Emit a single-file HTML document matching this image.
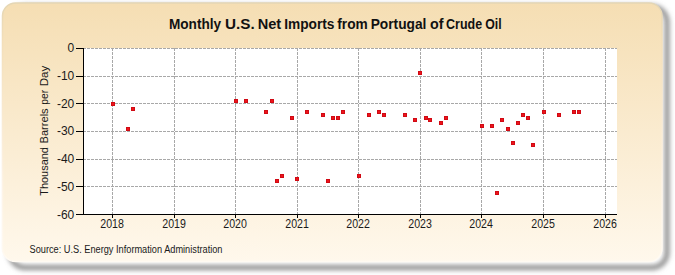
<!DOCTYPE html>
<html><head><meta charset="utf-8"><style>
html,body{margin:0;padding:0;background:#fff;width:675px;height:275px;overflow:hidden}
svg{display:block;font-family:"Liberation Sans",sans-serif}
</style></head><body>
<svg width="675" height="275" viewBox="0 0 675 275">
<defs>
<linearGradient id="bg" x1="0" y1="0" x2="0" y2="1">
<stop offset="0" stop-color="#F5DEB3"/>
<stop offset="1" stop-color="#FFF8EC"/>
</linearGradient>
<linearGradient id="bd" x1="0" y1="0" x2="0" y2="1">
<stop offset="0" stop-color="#E4D6B4"/>
<stop offset="0.15" stop-color="#F3DFBA"/>
<stop offset="0.7" stop-color="#FDF3E6"/>
<stop offset="1" stop-color="#FFFAF2"/>
</linearGradient>
<filter id="sh" x="-10%" y="-10%" width="120%" height="120%"><feGaussianBlur stdDeviation="2.5"/></filter>
<filter id="pb" x="-5%" y="-5%" width="110%" height="110%"><feGaussianBlur stdDeviation="0.7"/></filter>
</defs>
<rect x="10" y="7" width="657" height="260.5" rx="15" fill="none" stroke="#808080" stroke-width="4.5" filter="url(#sh)"/>
<g filter="url(#pb)"><rect x="2.5" y="3" width="659.5" height="258.5" rx="13" fill="url(#bg)" stroke="url(#bd)" stroke-width="1.5"/>
</g>
<rect x="84" y="48" width="533" height="166" fill="#fff"/>
<path d="M84 48.5H86M87 48.5H90M91 48.5H94M95 48.5H98M99 48.5H102M103 48.5H106M107 48.5H110M111 48.5H114M115 48.5H118M119 48.5H122M123 48.5H126M127 48.5H130M131 48.5H134M135 48.5H138M139 48.5H142M143 48.5H146M147 48.5H150M151 48.5H154M155 48.5H158M159 48.5H162M163 48.5H166M167 48.5H170M171 48.5H174M175 48.5H178M179 48.5H182M183 48.5H186M187 48.5H190M191 48.5H194M195 48.5H198M199 48.5H202M203 48.5H206M207 48.5H210M211 48.5H214M215 48.5H218M219 48.5H222M223 48.5H226M227 48.5H230M231 48.5H234M235 48.5H238M239 48.5H242M243 48.5H246M247 48.5H250M251 48.5H254M255 48.5H258M259 48.5H262M263 48.5H266M267 48.5H270M271 48.5H274M275 48.5H278M279 48.5H282M283 48.5H286M287 48.5H290M291 48.5H294M295 48.5H298M299 48.5H302M303 48.5H306M307 48.5H310M311 48.5H314M315 48.5H318M319 48.5H322M323 48.5H326M327 48.5H330M331 48.5H334M335 48.5H338M339 48.5H342M343 48.5H346M347 48.5H350M351 48.5H354M355 48.5H358M359 48.5H362M363 48.5H366M367 48.5H370M371 48.5H374M375 48.5H378M379 48.5H382M383 48.5H386M387 48.5H390M391 48.5H394M395 48.5H398M399 48.5H402M403 48.5H406M407 48.5H410M411 48.5H414M415 48.5H418M419 48.5H422M423 48.5H426M427 48.5H430M431 48.5H434M435 48.5H438M439 48.5H442M443 48.5H446M447 48.5H450M451 48.5H454M455 48.5H458M459 48.5H462M463 48.5H466M467 48.5H470M471 48.5H474M475 48.5H478M479 48.5H482M483 48.5H486M487 48.5H490M491 48.5H494M495 48.5H498M499 48.5H502M503 48.5H506M507 48.5H510M511 48.5H514M515 48.5H518M519 48.5H522M523 48.5H526M527 48.5H530M531 48.5H534M535 48.5H538M539 48.5H542M543 48.5H546M547 48.5H550M551 48.5H554M555 48.5H558M559 48.5H562M563 48.5H566M567 48.5H570M571 48.5H574M575 48.5H578M579 48.5H582M583 48.5H586M587 48.5H590M591 48.5H594M595 48.5H598M599 48.5H602M603 48.5H606M607 48.5H610M611 48.5H614M615 48.5H617M84 76.5H86M87 76.5H90M91 76.5H94M95 76.5H98M99 76.5H102M103 76.5H106M107 76.5H110M111 76.5H114M115 76.5H118M119 76.5H122M123 76.5H126M127 76.5H130M131 76.5H134M135 76.5H138M139 76.5H142M143 76.5H146M147 76.5H150M151 76.5H154M155 76.5H158M159 76.5H162M163 76.5H166M167 76.5H170M171 76.5H174M175 76.5H178M179 76.5H182M183 76.5H186M187 76.5H190M191 76.5H194M195 76.5H198M199 76.5H202M203 76.5H206M207 76.5H210M211 76.5H214M215 76.5H218M219 76.5H222M223 76.5H226M227 76.5H230M231 76.5H234M235 76.5H238M239 76.5H242M243 76.5H246M247 76.5H250M251 76.5H254M255 76.5H258M259 76.5H262M263 76.5H266M267 76.5H270M271 76.5H274M275 76.5H278M279 76.5H282M283 76.5H286M287 76.5H290M291 76.5H294M295 76.5H298M299 76.5H302M303 76.5H306M307 76.5H310M311 76.5H314M315 76.5H318M319 76.5H322M323 76.5H326M327 76.5H330M331 76.5H334M335 76.5H338M339 76.5H342M343 76.5H346M347 76.5H350M351 76.5H354M355 76.5H358M359 76.5H362M363 76.5H366M367 76.5H370M371 76.5H374M375 76.5H378M379 76.5H382M383 76.5H386M387 76.5H390M391 76.5H394M395 76.5H398M399 76.5H402M403 76.5H406M407 76.5H410M411 76.5H414M415 76.5H418M419 76.5H422M423 76.5H426M427 76.5H430M431 76.5H434M435 76.5H438M439 76.5H442M443 76.5H446M447 76.5H450M451 76.5H454M455 76.5H458M459 76.5H462M463 76.5H466M467 76.5H470M471 76.5H474M475 76.5H478M479 76.5H482M483 76.5H486M487 76.5H490M491 76.5H494M495 76.5H498M499 76.5H502M503 76.5H506M507 76.5H510M511 76.5H514M515 76.5H518M519 76.5H522M523 76.5H526M527 76.5H530M531 76.5H534M535 76.5H538M539 76.5H542M543 76.5H546M547 76.5H550M551 76.5H554M555 76.5H558M559 76.5H562M563 76.5H566M567 76.5H570M571 76.5H574M575 76.5H578M579 76.5H582M583 76.5H586M587 76.5H590M591 76.5H594M595 76.5H598M599 76.5H602M603 76.5H606M607 76.5H610M611 76.5H614M615 76.5H617M84 103.5H86M87 103.5H90M91 103.5H94M95 103.5H98M99 103.5H102M103 103.5H106M107 103.5H110M111 103.5H114M115 103.5H118M119 103.5H122M123 103.5H126M127 103.5H130M131 103.5H134M135 103.5H138M139 103.5H142M143 103.5H146M147 103.5H150M151 103.5H154M155 103.5H158M159 103.5H162M163 103.5H166M167 103.5H170M171 103.5H174M175 103.5H178M179 103.5H182M183 103.5H186M187 103.5H190M191 103.5H194M195 103.5H198M199 103.5H202M203 103.5H206M207 103.5H210M211 103.5H214M215 103.5H218M219 103.5H222M223 103.5H226M227 103.5H230M231 103.5H234M235 103.5H238M239 103.5H242M243 103.5H246M247 103.5H250M251 103.5H254M255 103.5H258M259 103.5H262M263 103.5H266M267 103.5H270M271 103.5H274M275 103.5H278M279 103.5H282M283 103.5H286M287 103.5H290M291 103.5H294M295 103.5H298M299 103.5H302M303 103.5H306M307 103.5H310M311 103.5H314M315 103.5H318M319 103.5H322M323 103.5H326M327 103.5H330M331 103.5H334M335 103.5H338M339 103.5H342M343 103.5H346M347 103.5H350M351 103.5H354M355 103.5H358M359 103.5H362M363 103.5H366M367 103.5H370M371 103.5H374M375 103.5H378M379 103.5H382M383 103.5H386M387 103.5H390M391 103.5H394M395 103.5H398M399 103.5H402M403 103.5H406M407 103.5H410M411 103.5H414M415 103.5H418M419 103.5H422M423 103.5H426M427 103.5H430M431 103.5H434M435 103.5H438M439 103.5H442M443 103.5H446M447 103.5H450M451 103.5H454M455 103.5H458M459 103.5H462M463 103.5H466M467 103.5H470M471 103.5H474M475 103.5H478M479 103.5H482M483 103.5H486M487 103.5H490M491 103.5H494M495 103.5H498M499 103.5H502M503 103.5H506M507 103.5H510M511 103.5H514M515 103.5H518M519 103.5H522M523 103.5H526M527 103.5H530M531 103.5H534M535 103.5H538M539 103.5H542M543 103.5H546M547 103.5H550M551 103.5H554M555 103.5H558M559 103.5H562M563 103.5H566M567 103.5H570M571 103.5H574M575 103.5H578M579 103.5H582M583 103.5H586M587 103.5H590M591 103.5H594M595 103.5H598M599 103.5H602M603 103.5H606M607 103.5H610M611 103.5H614M615 103.5H617M84 131.5H86M87 131.5H90M91 131.5H94M95 131.5H98M99 131.5H102M103 131.5H106M107 131.5H110M111 131.5H114M115 131.5H118M119 131.5H122M123 131.5H126M127 131.5H130M131 131.5H134M135 131.5H138M139 131.5H142M143 131.5H146M147 131.5H150M151 131.5H154M155 131.5H158M159 131.5H162M163 131.5H166M167 131.5H170M171 131.5H174M175 131.5H178M179 131.5H182M183 131.5H186M187 131.5H190M191 131.5H194M195 131.5H198M199 131.5H202M203 131.5H206M207 131.5H210M211 131.5H214M215 131.5H218M219 131.5H222M223 131.5H226M227 131.5H230M231 131.5H234M235 131.5H238M239 131.5H242M243 131.5H246M247 131.5H250M251 131.5H254M255 131.5H258M259 131.5H262M263 131.5H266M267 131.5H270M271 131.5H274M275 131.5H278M279 131.5H282M283 131.5H286M287 131.5H290M291 131.5H294M295 131.5H298M299 131.5H302M303 131.5H306M307 131.5H310M311 131.5H314M315 131.5H318M319 131.5H322M323 131.5H326M327 131.5H330M331 131.5H334M335 131.5H338M339 131.5H342M343 131.5H346M347 131.5H350M351 131.5H354M355 131.5H358M359 131.5H362M363 131.5H366M367 131.5H370M371 131.5H374M375 131.5H378M379 131.5H382M383 131.5H386M387 131.5H390M391 131.5H394M395 131.5H398M399 131.5H402M403 131.5H406M407 131.5H410M411 131.5H414M415 131.5H418M419 131.5H422M423 131.5H426M427 131.5H430M431 131.5H434M435 131.5H438M439 131.5H442M443 131.5H446M447 131.5H450M451 131.5H454M455 131.5H458M459 131.5H462M463 131.5H466M467 131.5H470M471 131.5H474M475 131.5H478M479 131.5H482M483 131.5H486M487 131.5H490M491 131.5H494M495 131.5H498M499 131.5H502M503 131.5H506M507 131.5H510M511 131.5H514M515 131.5H518M519 131.5H522M523 131.5H526M527 131.5H530M531 131.5H534M535 131.5H538M539 131.5H542M543 131.5H546M547 131.5H550M551 131.5H554M555 131.5H558M559 131.5H562M563 131.5H566M567 131.5H570M571 131.5H574M575 131.5H578M579 131.5H582M583 131.5H586M587 131.5H590M591 131.5H594M595 131.5H598M599 131.5H602M603 131.5H606M607 131.5H610M611 131.5H614M615 131.5H617M84 159.5H86M87 159.5H90M91 159.5H94M95 159.5H98M99 159.5H102M103 159.5H106M107 159.5H110M111 159.5H114M115 159.5H118M119 159.5H122M123 159.5H126M127 159.5H130M131 159.5H134M135 159.5H138M139 159.5H142M143 159.5H146M147 159.5H150M151 159.5H154M155 159.5H158M159 159.5H162M163 159.5H166M167 159.5H170M171 159.5H174M175 159.5H178M179 159.5H182M183 159.5H186M187 159.5H190M191 159.5H194M195 159.5H198M199 159.5H202M203 159.5H206M207 159.5H210M211 159.5H214M215 159.5H218M219 159.5H222M223 159.5H226M227 159.5H230M231 159.5H234M235 159.5H238M239 159.5H242M243 159.5H246M247 159.5H250M251 159.5H254M255 159.5H258M259 159.5H262M263 159.5H266M267 159.5H270M271 159.5H274M275 159.5H278M279 159.5H282M283 159.5H286M287 159.5H290M291 159.5H294M295 159.5H298M299 159.5H302M303 159.5H306M307 159.5H310M311 159.5H314M315 159.5H318M319 159.5H322M323 159.5H326M327 159.5H330M331 159.5H334M335 159.5H338M339 159.5H342M343 159.5H346M347 159.5H350M351 159.5H354M355 159.5H358M359 159.5H362M363 159.5H366M367 159.5H370M371 159.5H374M375 159.5H378M379 159.5H382M383 159.5H386M387 159.5H390M391 159.5H394M395 159.5H398M399 159.5H402M403 159.5H406M407 159.5H410M411 159.5H414M415 159.5H418M419 159.5H422M423 159.5H426M427 159.5H430M431 159.5H434M435 159.5H438M439 159.5H442M443 159.5H446M447 159.5H450M451 159.5H454M455 159.5H458M459 159.5H462M463 159.5H466M467 159.5H470M471 159.5H474M475 159.5H478M479 159.5H482M483 159.5H486M487 159.5H490M491 159.5H494M495 159.5H498M499 159.5H502M503 159.5H506M507 159.5H510M511 159.5H514M515 159.5H518M519 159.5H522M523 159.5H526M527 159.5H530M531 159.5H534M535 159.5H538M539 159.5H542M543 159.5H546M547 159.5H550M551 159.5H554M555 159.5H558M559 159.5H562M563 159.5H566M567 159.5H570M571 159.5H574M575 159.5H578M579 159.5H582M583 159.5H586M587 159.5H590M591 159.5H594M595 159.5H598M599 159.5H602M603 159.5H606M607 159.5H610M611 159.5H614M615 159.5H617M84 186.5H86M87 186.5H90M91 186.5H94M95 186.5H98M99 186.5H102M103 186.5H106M107 186.5H110M111 186.5H114M115 186.5H118M119 186.5H122M123 186.5H126M127 186.5H130M131 186.5H134M135 186.5H138M139 186.5H142M143 186.5H146M147 186.5H150M151 186.5H154M155 186.5H158M159 186.5H162M163 186.5H166M167 186.5H170M171 186.5H174M175 186.5H178M179 186.5H182M183 186.5H186M187 186.5H190M191 186.5H194M195 186.5H198M199 186.5H202M203 186.5H206M207 186.5H210M211 186.5H214M215 186.5H218M219 186.5H222M223 186.5H226M227 186.5H230M231 186.5H234M235 186.5H238M239 186.5H242M243 186.5H246M247 186.5H250M251 186.5H254M255 186.5H258M259 186.5H262M263 186.5H266M267 186.5H270M271 186.5H274M275 186.5H278M279 186.5H282M283 186.5H286M287 186.5H290M291 186.5H294M295 186.5H298M299 186.5H302M303 186.5H306M307 186.5H310M311 186.5H314M315 186.5H318M319 186.5H322M323 186.5H326M327 186.5H330M331 186.5H334M335 186.5H338M339 186.5H342M343 186.5H346M347 186.5H350M351 186.5H354M355 186.5H358M359 186.5H362M363 186.5H366M367 186.5H370M371 186.5H374M375 186.5H378M379 186.5H382M383 186.5H386M387 186.5H390M391 186.5H394M395 186.5H398M399 186.5H402M403 186.5H406M407 186.5H410M411 186.5H414M415 186.5H418M419 186.5H422M423 186.5H426M427 186.5H430M431 186.5H434M435 186.5H438M439 186.5H442M443 186.5H446M447 186.5H450M451 186.5H454M455 186.5H458M459 186.5H462M463 186.5H466M467 186.5H470M471 186.5H474M475 186.5H478M479 186.5H482M483 186.5H486M487 186.5H490M491 186.5H494M495 186.5H498M499 186.5H502M503 186.5H506M507 186.5H510M511 186.5H514M515 186.5H518M519 186.5H522M523 186.5H526M527 186.5H530M531 186.5H534M535 186.5H538M539 186.5H542M543 186.5H546M547 186.5H550M551 186.5H554M555 186.5H558M559 186.5H562M563 186.5H566M567 186.5H570M571 186.5H574M575 186.5H578M579 186.5H582M583 186.5H586M587 186.5H590M591 186.5H594M595 186.5H598M599 186.5H602M603 186.5H606M607 186.5H610M611 186.5H614M615 186.5H617M112.5 48V51M112.5 52V55M112.5 56V59M112.5 60V63M112.5 64V67M112.5 68V71M112.5 72V75M112.5 76V79M112.5 80V83M112.5 84V87M112.5 88V91M112.5 92V95M112.5 96V99M112.5 100V103M112.5 104V107M112.5 108V111M112.5 112V115M112.5 116V119M112.5 120V123M112.5 124V127M112.5 128V131M112.5 132V135M112.5 136V139M112.5 140V143M112.5 144V147M112.5 148V151M112.5 152V155M112.5 156V159M112.5 160V163M112.5 164V167M112.5 168V171M112.5 172V175M112.5 176V179M112.5 180V183M112.5 184V187M112.5 188V191M112.5 192V195M112.5 196V199M112.5 200V203M112.5 204V207M112.5 208V211M112.5 212V214M174.5 48V51M174.5 52V55M174.5 56V59M174.5 60V63M174.5 64V67M174.5 68V71M174.5 72V75M174.5 76V79M174.5 80V83M174.5 84V87M174.5 88V91M174.5 92V95M174.5 96V99M174.5 100V103M174.5 104V107M174.5 108V111M174.5 112V115M174.5 116V119M174.5 120V123M174.5 124V127M174.5 128V131M174.5 132V135M174.5 136V139M174.5 140V143M174.5 144V147M174.5 148V151M174.5 152V155M174.5 156V159M174.5 160V163M174.5 164V167M174.5 168V171M174.5 172V175M174.5 176V179M174.5 180V183M174.5 184V187M174.5 188V191M174.5 192V195M174.5 196V199M174.5 200V203M174.5 204V207M174.5 208V211M174.5 212V214M235.5 48V51M235.5 52V55M235.5 56V59M235.5 60V63M235.5 64V67M235.5 68V71M235.5 72V75M235.5 76V79M235.5 80V83M235.5 84V87M235.5 88V91M235.5 92V95M235.5 96V99M235.5 100V103M235.5 104V107M235.5 108V111M235.5 112V115M235.5 116V119M235.5 120V123M235.5 124V127M235.5 128V131M235.5 132V135M235.5 136V139M235.5 140V143M235.5 144V147M235.5 148V151M235.5 152V155M235.5 156V159M235.5 160V163M235.5 164V167M235.5 168V171M235.5 172V175M235.5 176V179M235.5 180V183M235.5 184V187M235.5 188V191M235.5 192V195M235.5 196V199M235.5 200V203M235.5 204V207M235.5 208V211M235.5 212V214M297.5 48V51M297.5 52V55M297.5 56V59M297.5 60V63M297.5 64V67M297.5 68V71M297.5 72V75M297.5 76V79M297.5 80V83M297.5 84V87M297.5 88V91M297.5 92V95M297.5 96V99M297.5 100V103M297.5 104V107M297.5 108V111M297.5 112V115M297.5 116V119M297.5 120V123M297.5 124V127M297.5 128V131M297.5 132V135M297.5 136V139M297.5 140V143M297.5 144V147M297.5 148V151M297.5 152V155M297.5 156V159M297.5 160V163M297.5 164V167M297.5 168V171M297.5 172V175M297.5 176V179M297.5 180V183M297.5 184V187M297.5 188V191M297.5 192V195M297.5 196V199M297.5 200V203M297.5 204V207M297.5 208V211M297.5 212V214M358.5 48V51M358.5 52V55M358.5 56V59M358.5 60V63M358.5 64V67M358.5 68V71M358.5 72V75M358.5 76V79M358.5 80V83M358.5 84V87M358.5 88V91M358.5 92V95M358.5 96V99M358.5 100V103M358.5 104V107M358.5 108V111M358.5 112V115M358.5 116V119M358.5 120V123M358.5 124V127M358.5 128V131M358.5 132V135M358.5 136V139M358.5 140V143M358.5 144V147M358.5 148V151M358.5 152V155M358.5 156V159M358.5 160V163M358.5 164V167M358.5 168V171M358.5 172V175M358.5 176V179M358.5 180V183M358.5 184V187M358.5 188V191M358.5 192V195M358.5 196V199M358.5 200V203M358.5 204V207M358.5 208V211M358.5 212V214M420.5 48V51M420.5 52V55M420.5 56V59M420.5 60V63M420.5 64V67M420.5 68V71M420.5 72V75M420.5 76V79M420.5 80V83M420.5 84V87M420.5 88V91M420.5 92V95M420.5 96V99M420.5 100V103M420.5 104V107M420.5 108V111M420.5 112V115M420.5 116V119M420.5 120V123M420.5 124V127M420.5 128V131M420.5 132V135M420.5 136V139M420.5 140V143M420.5 144V147M420.5 148V151M420.5 152V155M420.5 156V159M420.5 160V163M420.5 164V167M420.5 168V171M420.5 172V175M420.5 176V179M420.5 180V183M420.5 184V187M420.5 188V191M420.5 192V195M420.5 196V199M420.5 200V203M420.5 204V207M420.5 208V211M420.5 212V214M481.5 48V51M481.5 52V55M481.5 56V59M481.5 60V63M481.5 64V67M481.5 68V71M481.5 72V75M481.5 76V79M481.5 80V83M481.5 84V87M481.5 88V91M481.5 92V95M481.5 96V99M481.5 100V103M481.5 104V107M481.5 108V111M481.5 112V115M481.5 116V119M481.5 120V123M481.5 124V127M481.5 128V131M481.5 132V135M481.5 136V139M481.5 140V143M481.5 144V147M481.5 148V151M481.5 152V155M481.5 156V159M481.5 160V163M481.5 164V167M481.5 168V171M481.5 172V175M481.5 176V179M481.5 180V183M481.5 184V187M481.5 188V191M481.5 192V195M481.5 196V199M481.5 200V203M481.5 204V207M481.5 208V211M481.5 212V214M543.5 48V51M543.5 52V55M543.5 56V59M543.5 60V63M543.5 64V67M543.5 68V71M543.5 72V75M543.5 76V79M543.5 80V83M543.5 84V87M543.5 88V91M543.5 92V95M543.5 96V99M543.5 100V103M543.5 104V107M543.5 108V111M543.5 112V115M543.5 116V119M543.5 120V123M543.5 124V127M543.5 128V131M543.5 132V135M543.5 136V139M543.5 140V143M543.5 144V147M543.5 148V151M543.5 152V155M543.5 156V159M543.5 160V163M543.5 164V167M543.5 168V171M543.5 172V175M543.5 176V179M543.5 180V183M543.5 184V187M543.5 188V191M543.5 192V195M543.5 196V199M543.5 200V203M543.5 204V207M543.5 208V211M543.5 212V214M605.5 48V51M605.5 52V55M605.5 56V59M605.5 60V63M605.5 64V67M605.5 68V71M605.5 72V75M605.5 76V79M605.5 80V83M605.5 84V87M605.5 88V91M605.5 92V95M605.5 96V99M605.5 100V103M605.5 104V107M605.5 108V111M605.5 112V115M605.5 116V119M605.5 120V123M605.5 124V127M605.5 128V131M605.5 132V135M605.5 136V139M605.5 140V143M605.5 144V147M605.5 148V151M605.5 152V155M605.5 156V159M605.5 160V163M605.5 164V167M605.5 168V171M605.5 172V175M605.5 176V179M605.5 180V183M605.5 184V187M605.5 188V191M605.5 192V195M605.5 196V199M605.5 200V203M605.5 204V207M605.5 208V211M605.5 212V214" stroke="#a8a8a8" stroke-width="1" fill="none"/>
<path d="M76 48.5H84M76 76.5H84M76 103.5H84M76 131.5H84M76 159.5H84M76 186.5H84M76 214.5H84M112.5 214V218M174.5 214V218M235.5 214V218M297.5 214V218M358.5 214V218M420.5 214V218M481.5 214V218M543.5 214V218M605.5 214V218" stroke="#000" stroke-width="1" fill="none"/>
<path d="M83.5 48V214.5H617" stroke="#000" stroke-width="1" fill="none"/>
<path d="M111 102h4v4h-4zM126 127h4v4h-4zM131 107h4v4h-4zM234 99h4v4h-4zM244 99h4v4h-4zM264 110h4v4h-4zM270 99h4v4h-4zM275 179h4v4h-4zM280 174h4v4h-4zM290 116h4v4h-4zM295 177h4v4h-4zM305 110h4v4h-4zM321 113h4v4h-4zM326 179h4v4h-4zM331 116h4v4h-4zM336 116h4v4h-4zM341 110h4v4h-4zM357 174h4v4h-4zM367 113h4v4h-4zM377 110h4v4h-4zM382 113h4v4h-4zM403 113h4v4h-4zM413 118h4v4h-4zM418 71h4v4h-4zM424 116h4v4h-4zM428 118h4v4h-4zM439 121h4v4h-4zM444 116h4v4h-4zM480 124h4v4h-4zM490 124h4v4h-4zM495 191h4v4h-4zM500 118h4v4h-4zM506 127h4v4h-4zM511 141h4v4h-4zM516 121h4v4h-4zM521 113h4v4h-4zM526 116h4v4h-4zM531 143h4v4h-4zM542 110h4v4h-4zM557 113h4v4h-4zM572 110h4v4h-4zM577 110h4v4h-4z" fill="#D00A14"/><path d="M112 103h2v2h-2zM127 128h2v2h-2zM132 108h2v2h-2zM235 100h2v2h-2zM245 100h2v2h-2zM265 111h2v2h-2zM271 100h2v2h-2zM276 180h2v2h-2zM281 175h2v2h-2zM291 117h2v2h-2zM296 178h2v2h-2zM306 111h2v2h-2zM322 114h2v2h-2zM327 180h2v2h-2zM332 117h2v2h-2zM337 117h2v2h-2zM342 111h2v2h-2zM358 175h2v2h-2zM368 114h2v2h-2zM378 111h2v2h-2zM383 114h2v2h-2zM404 114h2v2h-2zM414 119h2v2h-2zM419 72h2v2h-2zM425 117h2v2h-2zM429 119h2v2h-2zM440 122h2v2h-2zM445 117h2v2h-2zM481 125h2v2h-2zM491 125h2v2h-2zM496 192h2v2h-2zM501 119h2v2h-2zM507 128h2v2h-2zM512 142h2v2h-2zM517 122h2v2h-2zM522 114h2v2h-2zM527 117h2v2h-2zM532 144h2v2h-2zM543 111h2v2h-2zM558 114h2v2h-2zM573 111h2v2h-2zM578 111h2v2h-2z" fill="#EE141A"/>
<g font-size="12" fill="#1a1a1a"><text x="74.3" y="51.6" text-anchor="end">0</text><text x="74.3" y="79.6" text-anchor="end">-10</text><text x="74.3" y="107.6" text-anchor="end">-20</text><text x="74.3" y="134.6" text-anchor="end">-30</text><text x="74.3" y="162.6" text-anchor="end">-40</text><text x="74.3" y="190.6" text-anchor="end">-50</text><text x="74.3" y="218.6" text-anchor="end">-60</text></g>
<g font-size="12" fill="#1a1a1a"><text x="112.1" y="227.8" text-anchor="middle" textLength="23.6" lengthAdjust="spacingAndGlyphs">2018</text><text x="174.1" y="227.8" text-anchor="middle" textLength="23.6" lengthAdjust="spacingAndGlyphs">2019</text><text x="235.1" y="227.8" text-anchor="middle" textLength="23.6" lengthAdjust="spacingAndGlyphs">2020</text><text x="297.1" y="227.8" text-anchor="middle" textLength="23.6" lengthAdjust="spacingAndGlyphs">2021</text><text x="358.1" y="227.8" text-anchor="middle" textLength="23.6" lengthAdjust="spacingAndGlyphs">2022</text><text x="420.1" y="227.8" text-anchor="middle" textLength="23.6" lengthAdjust="spacingAndGlyphs">2023</text><text x="481.1" y="227.8" text-anchor="middle" textLength="23.6" lengthAdjust="spacingAndGlyphs">2024</text><text x="543.1" y="227.8" text-anchor="middle" textLength="23.6" lengthAdjust="spacingAndGlyphs">2025</text><text x="605.1" y="227.8" text-anchor="middle" textLength="23.6" lengthAdjust="spacingAndGlyphs">2026</text></g>
<g font-size="14" font-weight="bold" fill="#111"><text x="168.90" y="29" textLength="52.20" lengthAdjust="spacingAndGlyphs">Monthly</text><text x="225.10" y="29" textLength="29.70" lengthAdjust="spacingAndGlyphs">U.S.</text><text x="257.70" y="29" textLength="23.50" lengthAdjust="spacingAndGlyphs">Net</text><text x="284.20" y="29" textLength="50.30" lengthAdjust="spacingAndGlyphs">Imports</text><text x="337.30" y="29" textLength="30.50" lengthAdjust="spacingAndGlyphs">from</text><text x="370.70" y="29" textLength="55.70" lengthAdjust="spacingAndGlyphs">Portugal</text><text x="430.10" y="29" textLength="13.50" lengthAdjust="spacingAndGlyphs">of</text><text x="446.10" y="29" textLength="36.00" lengthAdjust="spacingAndGlyphs">Crude</text><text x="485.20" y="29" textLength="16.40" lengthAdjust="spacingAndGlyphs">Oil</text></g>
<g transform="translate(48 0) rotate(-90)" font-size="11" fill="#1a1a1a"><text x="-195.80" y="0" textLength="48.70" lengthAdjust="spacingAndGlyphs">Thousand</text><text x="-143.40" y="0" textLength="35.00" lengthAdjust="spacingAndGlyphs">Barrels</text><text x="-104.80" y="0" textLength="14.90" lengthAdjust="spacingAndGlyphs">per</text><text x="-86.20" y="0" textLength="20.40" lengthAdjust="spacingAndGlyphs">Day</text></g>
<text x="29.5" y="253" font-size="10" fill="#1a1a1a" textLength="193" lengthAdjust="spacingAndGlyphs">Source: U.S. Energy Information Administration</text>
</svg>
</body></html>
